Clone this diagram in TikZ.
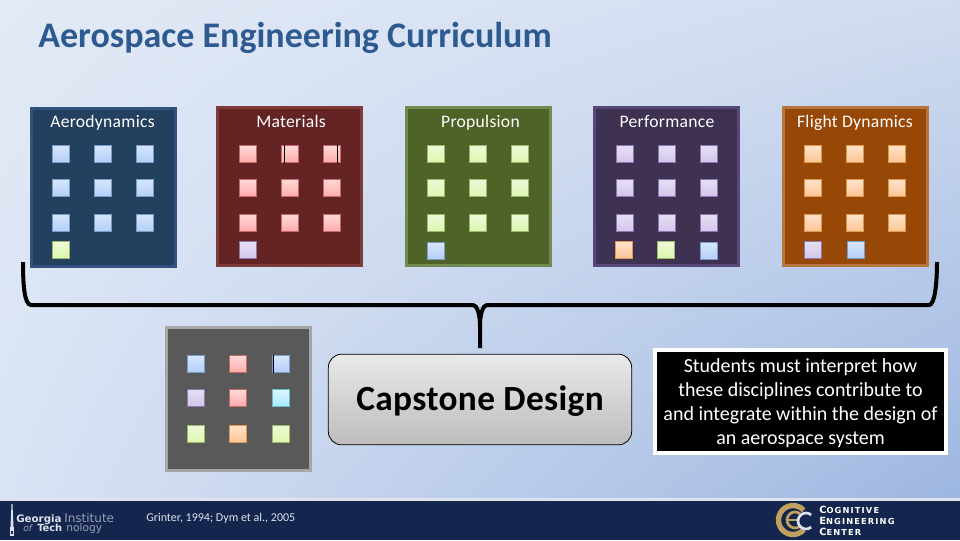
\documentclass[tikz,border=0pt]{standalone}
\usepackage{fontspec}
\setmainfont{Carlito}
\newfontfamily\widefont{DejaVu Sans}
\usetikzlibrary{calc,shadings}
\definecolor{bgTL}{HTML}{E3EAF6}
\definecolor{bgTR}{HTML}{D0DCF0}
\definecolor{bgBL}{HTML}{D9E3F4}
\definecolor{bgBR}{HTML}{9DB6E0}
\definecolor{navy}{HTML}{14264D}
\definecolor{titleblue}{HTML}{2E5A92}
\definecolor{D1}{HTML}{D6E6FB}\definecolor{D1b}{HTML}{B3CEF8}\definecolor{Bd}{HTML}{7A9CC8}
\definecolor{R1}{HTML}{FFD9D8}\definecolor{R1b}{HTML}{FFABAA}\definecolor{Rd}{HTML}{C46A68}
\definecolor{G1}{HTML}{EEF9D8}\definecolor{G1b}{HTML}{DCF7B0}\definecolor{Gd}{HTML}{9DB86A}
\definecolor{P1}{HTML}{E6DFF3}\definecolor{P1b}{HTML}{D3C5EC}\definecolor{Pd}{HTML}{8E78B4}
\definecolor{O1}{HTML}{FFE3CB}\definecolor{O1b}{HTML}{FFC594}\definecolor{Od}{HTML}{E09850}
\definecolor{C1}{HTML}{DAF6FE}\definecolor{C1b}{HTML}{A9EAFB}\definecolor{Cd}{HTML}{6FB8CC}
\definecolor{aeroF}{HTML}{24405F}\definecolor{aeroB}{HTML}{32537F}
\definecolor{matF}{HTML}{632423}\definecolor{matB}{HTML}{7F3A3A}
\definecolor{propF}{HTML}{4F6228}\definecolor{propB}{HTML}{708A50}
\definecolor{perfF}{HTML}{3F3151}\definecolor{perfB}{HTML}{57477A}
\definecolor{flightF}{HTML}{974806}\definecolor{flightB}{HTML}{B5773F}
\definecolor{capF}{HTML}{595959}\definecolor{capB}{HTML}{A6A6A6}
\definecolor{btnT}{HTML}{E9E9E9}\definecolor{btnB}{HTML}{BDBDBD}
\definecolor{gold}{HTML}{BFA05F}
\definecolor{foot}{HTML}{DDE2EC}
\tikzset{
  x=0.75pt,y=-0.75pt,
  paneltitle/.style={text=white,font=\fontsize{13.2}{14}\selectfont\addfontfeature{LetterSpace=1.5},anchor=base},
  tile/.style={minimum size=12.75pt,inner sep=0pt,line width=0.75pt},
  tb/.style={tile,draw=Bd,top color=D1,bottom color=D1b},
  tr/.style={tile,draw=Rd,top color=R1,bottom color=R1b},
  tg/.style={tile,draw=Gd,top color=G1,bottom color=G1b},
  tp/.style={tile,draw=Pd,top color=P1,bottom color=P1b},
  to/.style={tile,draw=Od,top color=O1,bottom color=O1b},
  tc/.style={tile,draw=Cd,top color=C1,bottom color=C1b},
  logotxt/.style={anchor=base west,inner sep=0pt,text=foot,font=\widefont\fontsize{7.7}{8}\selectfont\bfseries},
  logothin/.style={anchor=base west,inner sep=0pt,text=foot!65!navy,font=\widefont\fontsize{9}{8}\selectfont},
  cectxt/.style={anchor=base west,inner sep=0pt,text=white,font=\widefont\fontsize{6.2}{8}\selectfont\bfseries\addfontfeature{LetterSpace=14}},
}
\newcommand{\panelbox}[9]{% name, panel x, first tile x, fill, border, title, style, panel y, title x
  \node[draw=#5,fill=#4,line width=2.25pt,outer sep=0pt,inner sep=0pt,minimum width=108pt,minimum height=118.5pt,anchor=north west] (#1) at (#2+1.5,#8+1.5) {};
  \node[paneltitle] (#1t) at (#9,127) {#6};
  \foreach \cx/\k in {0/a,1/b,2/c}{
    \foreach \cy/\l/\dy in {0/a/154,1/b/188,2/c/223}{
      \node[#7] (#1\k\l) at (#3+\cx*42,\dy) {};
    }
  }
}
\begin{document}
\begin{tikzpicture}
\useasboundingbox (0,0) rectangle (960,540);
\shade[lower left=bgBL,upper left=bgTL,upper right=bgTR,lower right=bgBR] (0,0) rectangle (960,500);
\node[anchor=base west,text=titleblue,font=\fontsize{27}{28}\selectfont\bfseries,inner sep=0pt] (title) at (38,47) {Aerospace Engineering Curriculum};

\panelbox{aero}{30}{60.5}{aeroF}{aeroB}{Aerodynamics}{tb}{107}{102.5}
\panelbox{mat}{216}{248}{matF}{matB}{Materials}{tr}{106}{291}
\panelbox{prop}{405}{436}{propF}{propB}{Propulsion}{tg}{106}{480.5}
\panelbox{perf}{593}{624.5}{perfF}{perfB}{Performance}{tp}{106}{667}
\panelbox{flight}{782}{813}{flightF}{flightB}{Flight Dynamics}{to}{106}{855}

\node[tg] (x1) at (60.5,250) {};
\node[tp] (x2) at (248,250) {};
\node[tb] (x3) at (436,251) {};
\node[to] (x4) at (624,250) {};
\node[tg] (x5) at (666,250) {};
\node[tb] (x6) at (709,251) {};
\node[tp] (x7) at (813,250) {};
\node[tb] (x8) at (856,250) {};
\draw[black,line width=0.75pt] (284.7,145) -- (284.7,163) (337,145) -- (337,163);

% brace
\coordinate (bL) at (23,262);
\coordinate (bR) at (937,262);
\coordinate (bM) at (480,348);
\draw[black,line width=3pt]
  (bL) .. controls (23,282) and (24,305) .. (31,305) -- (473,305)
  .. controls (477,305) and (480,314) .. (480,326) -- (bM);
\draw[black,line width=3pt]
  (bR) .. controls (937,282) and (935,305) .. (929,305) -- (487,305)
  .. controls (483,305) and (480,314) .. (480,326);

% bottom panel
\node[draw=capB,fill=capF,line width=2.25pt,outer sep=0pt,inner sep=0pt,minimum width=108pt,minimum height=107.25pt,anchor=north west] (cap) at (166.5,327.5) {};
\node[tb] (c1) at (196,364) {};
\node[tr] (c2) at (238,364) {};
\node[tb] (c3) at (281,364) {};
\node[tp] (c4) at (196,398) {};
\node[tr] (c5) at (238,398) {};
\node[tc] (c6) at (281,398) {};
\node[tg] (c7) at (196,434) {};
\node[to] (c8) at (238,434) {};
\node[tg] (c9) at (281,434) {};
\draw[black,line width=0.5pt] (273.5,355) -- (273.5,373);

\node[draw=black,line width=0.6pt,rounded corners=10pt,top color=btnT,bottom color=btnB,minimum width=227.5pt,minimum height=68pt,inner sep=0pt,text height=16pt,text depth=0.25pt,font=\fontsize{26.5}{28}\selectfont\bfseries\addfontfeature{LetterSpace=1},text=black] (capstone) at (480,399.5) {Capstone Design};

\node[draw=white,fill=black,line width=3pt,minimum width=218pt,minimum height=77pt,inner sep=0pt] (note) at (800.5,401.3) {};
\node[inner sep=0pt,align=center,text=white,yshift=-1.5pt,font=\fontsize{15}{18}\selectfont] (notetext) at (note.center) {Students must interpret how\\these disciplines contribute to\\and integrate within the design of\\an aerospace system};

% footer
\fill[navy] (0,500) rectangle (960,540);
\fill[foot] (0,498) rectangle (960,500.5);
\node[anchor=base west,inner sep=0pt,text=foot,font=\fontsize{9}{10}\selectfont] (cite) at (146,521) {Grinter, 1994; Dym et al., 2005};

% GT logo
\fill[foot] (11.5,504) -- (12.5,504) -- (13.5,527) -- (10.5,527) -- cycle;
\fill[foot] (10,527) rectangle (14,536);
\fill[navy] (11.3,531) rectangle (12.7,534);
\node[logotxt] (gt1) at (16,522) {Georgia};
\node[logothin] (gt2) at (64,522) {Institute};
\node[logothin,font=\widefont\fontsize{7}{8}\selectfont\itshape] (gt3) at (23,531) {of};
\node[logotxt,font=\widefont\fontsize{7.4}{8}\selectfont\bfseries] (gt4) at (37,531) {Tech};
\node[logothin,font=\widefont\fontsize{8}{8}\selectfont] (gt5) at (66,531) {nology};

% CEC logo
\draw[gold,line width=4pt] (793,520) ++(42:14.5) arc (42:318:14.5);
\draw[gold,line width=2pt] (795,520) ++(50:8) arc (50:310:8);
\draw[gold,line width=2pt] (788,520) -- (799,520);
\draw[foot,line width=2pt] (806,521) ++(50:8) arc (50:310:8);
\node[cectxt] (ce1) at (819,513.5) {{\fontsize{7.4}{8}\selectfont C}OGNITIVE};
\node[cectxt] (ce2) at (819,524.5) {{\fontsize{7.4}{8}\selectfont E}NGINEERING};
\node[cectxt] (ce3) at (819,535) {{\fontsize{7.4}{8}\selectfont C}ENTER};
\end{tikzpicture}
\end{document}
